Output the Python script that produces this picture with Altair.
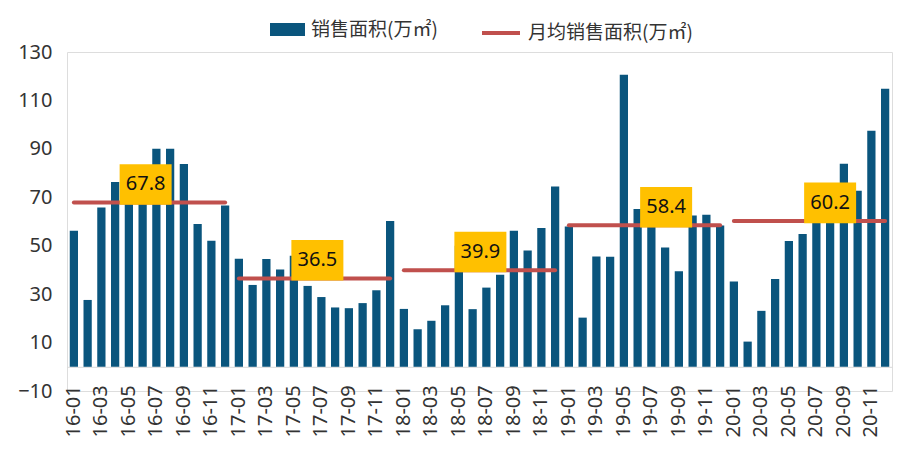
import altair as alt
import pandas as pd

months = [f"{y}-{m:02d}" for y in range(16, 21) for m in range(1, 13)]
sales = [
    56.2, 27.6, 65.8, 76.3, 72.0, 74.4, 90.0, 90.0, 83.7, 59.0, 52.0, 66.6,
    44.6, 33.8, 44.5, 40.2, 45.9, 33.4, 28.8, 24.5, 24.2, 26.3, 31.6, 60.2,
    23.9, 15.5, 19.0, 25.4, 50.0, 23.8, 32.7, 38.0, 56.2, 48.0, 57.3, 74.5,
    57.9, 20.3, 45.5, 45.4, 120.6, 65.2, 73.5, 49.3, 39.5, 62.5, 62.8, 58.3,
    35.2, 10.4, 23.1, 36.3, 51.9, 54.8, 66.0, 75.9, 83.8, 72.7, 97.5, 114.8,
]
year_start = ["16-01", "17-01", "18-01", "19-01", "20-01"]
year_end = ["16-12", "17-12", "18-12", "19-12", "20-12"]
year_avg = [67.8, 36.5, 39.9, 58.4, 60.2]
label_month = ["16-06", "17-07", "18-07", "19-08", "20-08"]
y_ticks = [-10, 10, 30, 50, 70, 90, 110, 130]

bar_name = "销售面积(万㎡)"
line_name = "月均销售面积(万㎡)"

BLUE = "#0A557D"
RED = "#C0504D"
YELLOW = "#FFC000"
NUM_FONT = "Noto Sans"
CJK_FONT = "Noto Sans CJK SC"
# small horizontal nudges (px) of the yellow label boxes, one per year
label_nudge = [3, -4, -6, 1, 0]

df = pd.DataFrame({"month": months, "sales": sales, "series": bar_name})
avg_df = pd.DataFrame({
    "start": year_start, "end": year_end, "avg": year_avg,
    "label_month": label_month, "series": line_name,
})

x_scale = alt.Scale(domain=months, paddingInner=0.4, paddingOuter=0.2)
y_scale = alt.Scale(domain=[-10, 130], nice=False, zero=False)

x_axis = alt.Axis(
    values=months[::2], labelAngle=270, labelAlign="right", labelBaseline="middle",
    labelFont=NUM_FONT, labelFontSize=20, labelColor="#333333", labelPadding=18,
    ticks=False, tickSize=0, domain=True, domainColor="#d9d9d9", domainWidth=1,
    offset=-24.2, grid=False, title=None,
)
y_axis = alt.Axis(
    values=y_ticks, labelFont=NUM_FONT, labelFontSize=20, labelColor="#333333",
    labelPadding=15, ticks=False, tickSize=0, domain=False, grid=False, title=None,
)

bars = alt.Chart(df).mark_bar().encode(
    x=alt.X("month:N", scale=x_scale, sort=months, axis=x_axis),
    y=alt.Y("sales:Q", scale=y_scale, axis=y_axis),
    fill=alt.Fill(
        "series:N",
        scale=alt.Scale(domain=[bar_name], range=[BLUE]),
        legend=alt.Legend(
            title=None, orient="none", legendX=203, legendY=-40,
            symbolType="M-1,-0.37H1V0.37H-1Z", symbolSize=1225,
            symbolStrokeWidth=0, symbolOpacity=1,
            labelFont=CJK_FONT, labelFontSize=19, labelColor="#333333",
            labelOffset=6, padding=0, labelLimit=400,
        ),
    ),
)

rules = alt.Chart(avg_df).mark_rule(strokeWidth=4, strokeCap="round").encode(
    x=alt.X("start:N", scale=x_scale, sort=months, axis=x_axis),
    x2="end:N",
    y=alt.Y("avg:Q", scale=y_scale, axis=y_axis),
    stroke=alt.Stroke(
        "series:N",
        scale=alt.Scale(domain=[line_name], range=[RED]),
        legend=alt.Legend(
            title=None, orient="none", legendX=413, legendY=-40,
            symbolType="stroke", symbolSize=1444, symbolStrokeWidth=4,
            labelFont=CJK_FONT, labelFontSize=19, labelColor="#333333",
            labelOffset=6, padding=0, labelLimit=400,
        ),
    ),
)

label_layers = []
for i, ys in enumerate(year_start):
    base = alt.Chart(avg_df).transform_filter(
        alt.datum.start == ys
    ).transform_calculate(label_y="datum.avg + 7.5")
    box = base.mark_point(
        shape="M-1,-0.78H1V0.78H-1Z", size=2704, filled=True,
        fill=YELLOW, opacity=1, strokeWidth=0, xOffset=label_nudge[i],
    ).encode(
        x=alt.X("label_month:N", scale=x_scale, sort=months, axis=x_axis),
        y=alt.Y("label_y:Q", scale=y_scale, axis=y_axis),
    )
    txt = base.mark_text(
        font=NUM_FONT, fontSize=20, color="#111111", baseline="middle",
        align="center", xOffset=label_nudge[i],
    ).encode(
        x=alt.X("label_month:N", scale=x_scale, sort=months, axis=x_axis),
        y=alt.Y("label_y:Q", scale=y_scale, axis=y_axis),
        text=alt.Text("avg:Q", format=".1f"),
    )
    label_layers += [box, txt]

chart = alt.layer(bars, rules, *label_layers).properties(
    width=825, height=339,
    autosize=alt.AutoSizeParams(type="none"),
    padding={"left": 59, "top": 44, "right": 3, "bottom": 72},
).configure_view(stroke=None).configure(background="white")

chart.save("out.html", embed_options={"renderer": "svg", "actions": False})
